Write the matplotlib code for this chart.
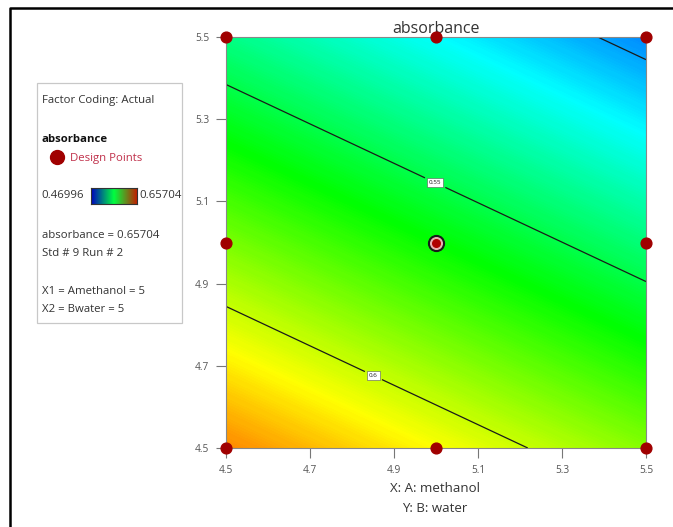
import numpy as np
import matplotlib
matplotlib.use('Agg')
import matplotlib.pyplot as plt
from matplotlib.colors import LinearSegmentedColormap
from matplotlib.patches import Rectangle
from matplotlib.lines import Line2D

# 因子水平 (A: methanol, B: water)
a_levels = [4.5, 5.0, 5.5]
b_levels = [4.5, 5.0, 5.5]

# 模型预测值 (行: B, 列: A)
z_b45 = [0.6319, 0.6097, 0.5875]
z_b50 = [0.5856, 0.5634, 0.5412]
z_b55 = [0.5393, 0.5171, 0.4949]

# 设计点
design_a = [4.5, 5.0, 5.5, 4.5, 5.5, 4.5, 5.0, 5.5]
design_b = [4.5, 4.5, 4.5, 5.0, 5.0, 5.5, 5.5, 5.5]
center_a = [5.0]
center_b = [5.0]

contour_levels = [0.5, 0.55, 0.6]
label_pos = [(5.0, 5.15), (4.855, 4.685)]
z_min = 0.46996
z_max = 0.65704
ticks = [4.5, 4.7, 4.9, 5.1, 5.3, 5.5]
tick_labels = ['4.5', '4.7', '4.9', '5.1', '5.3', '5.5']

plt.rcParams['font.family'] = ['Open Sans', 'DejaVu Sans']

cmap = LinearSegmentedColormap.from_list(
    'dx', [(0.0, '#0000ff'), (0.25, '#00ffff'), (0.5, '#00ff00'),
           (0.75, '#ffff00'), (1.0, '#ff0000')])

fig = plt.figure(figsize=(6.73, 5.27), dpi=100)
W, H = 673, 527

def fx(px):
    return px / W

def fy(py):
    return 1 - py / H

ax = fig.add_axes([fx(226), fy(448), fx(646) - fx(226), fy(37) - fy(448)])
A, B = np.meshgrid(a_levels, b_levels)
Z = np.array([z_b45, z_b50, z_b55])

ax.contourf(A, B, Z, levels=np.linspace(z_min, z_max, 300), cmap=cmap,
            vmin=z_min, vmax=z_max, extend='both')
cs = ax.contour(A, B, Z, levels=contour_levels, colors='#1a1a1a', linewidths=0.9)
labels = ax.clabel(cs, fontsize=4.5, fmt='%g', manual=label_pos, inline=True)
for t in labels:
    t.set_rotation(0)
    t.set_bbox(dict(facecolor='white', edgecolor='#555555', linewidth=0.4, pad=1.2))

ax.scatter(design_a, design_b, s=60, color='#a00000', zorder=5, clip_on=False)
ax.scatter(center_a, center_b, s=130, color='#1a1a1a', zorder=5)
ax.scatter(center_a, center_b, s=70, color='#e8b0b0', zorder=6)
ax.scatter(center_a, center_b, s=30, color='#b00000', zorder=7)

ax.set_xlim(4.5, 5.5)
ax.set_ylim(4.5, 5.5)
ax.set_xticks(ticks)
ax.set_xticklabels(tick_labels)
ax.set_yticks(ticks)
ax.set_yticklabels(tick_labels)
ax.tick_params(direction='out', length=7, width=0.8, color='#777777',
               labelsize=7.3, labelcolor='#555555', pad=5)
for s in ax.spines.values():
    s.set_color('#888888')
    s.set_linewidth(0.8)

ax.set_title('absorbance', fontsize=11.5, color='#333333', pad=3)
fig.text(fx(435), fy(489), 'X: A: methanol', ha='center', va='center',
         fontsize=9.5, color='#333333')
fig.text(fx(435), fy(509), 'Y: B: water', ha='center', va='center',
         fontsize=9.5, color='#333333')

# 图例框
fig.patches.append(Rectangle((fx(37), fy(323)), fx(182) - fx(37), fy(83) - fy(323),
                             transform=fig.transFigure, facecolor='white',
                             edgecolor='#c8c8c8', linewidth=0.9, zorder=-1))
fs = 8.2
fig.text(fx(42), fy(100), 'Factor Coding: Actual', fontsize=fs, va='center', color='#333333')
fig.text(fx(42), fy(140), 'absorbance', fontsize=fs, va='center', fontweight='bold', color='#111111')
fig.lines.append(Line2D([fx(57)], [fy(157)], transform=fig.transFigure, marker='o',
                        markersize=10, color='#a00000', linestyle='none'))
fig.text(fx(70), fy(158), 'Design Points', fontsize=fs, va='center', color='#c0304a')
fig.text(fx(41), fy(196), '0.46996', fontsize=fs, va='center', color='#333333')
fig.text(fx(139), fy(196), '0.65704', fontsize=fs, va='center', color='#333333')
cax = fig.add_axes([fx(91), fy(204), fx(137) - fx(91), fy(188) - fy(204)])
cax.imshow(np.linspace(0, 1, 256).reshape(1, -1), aspect='auto', cmap=LinearSegmentedColormap.from_list(
    'bar', ['#0000c0', '#00ff40', '#c02000']))
cax.set_xticks([])
cax.set_yticks([])
for s in cax.spines.values():
    s.set_color('#333333')
    s.set_linewidth(0.8)
fig.text(fx(42), fy(236), 'absorbance = 0.65704', fontsize=fs, va='center', color='#333333')
fig.text(fx(42), fy(253), 'Std # 9 Run # 2', fontsize=fs, va='center', color='#333333')
fig.text(fx(42), fy(292), 'X1 = Amethanol = 5', fontsize=fs, va='center', color='#333333')
fig.text(fx(42), fy(309), 'X2 = Bwater = 5', fontsize=fs, va='center', color='#333333')

# 外框 (上边和左边)
fig.lines.append(Line2D([fx(10), fx(10), 1.0], [0.0, fy(8), fy(8)],
                        transform=fig.transFigure, color='black', linewidth=1.8))

fig.savefig('out.png', dpi=100)
